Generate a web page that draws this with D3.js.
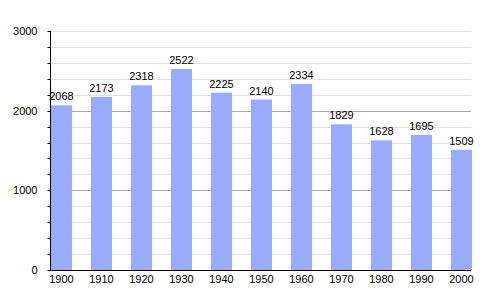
<!DOCTYPE html>
<html>
<head>
<meta charset="utf-8">
<script src="https://cdn.jsdelivr.net/npm/d3@7"></script>
<style>
  body { margin: 0; background: #fff; }
  text { font-family: "Liberation Sans", Arial, sans-serif; font-size: 11px; fill: #000; }
</style>
</head>
<body>
<div id="chart"></div>
<script>
// Population by census year
const years = ["1900", "1910", "1920", "1930", "1940", "1950", "1960", "1970", "1980", "1990", "2000"];
const population = [2068, 2173, 2318, 2522, 2225, 2140, 2334, 1829, 1628, 1695, 1509];
const yTicks = [0, 1000, 2000, 3000];

const width = 500, height = 300;
const plotLeft = 50, plotRight = 471, plotTop = 31, plotBottom = 270;

const svg = d3.select("#chart").append("svg")
    .attr("width", width)
    .attr("height", height);

// 40px step, 21px bars, first bar flush with the axis
const x = d3.scaleBand()
    .domain(years)
    .range([plotLeft + 1, plotLeft + 1 + 40 * years.length - 19])
    .paddingInner(19 / 40)
    .paddingOuter(0);

const y = d3.scaleLinear()
    .domain([0, 3000])
    .range([plotBottom, plotTop]);

// Gridlines: minor every 200, major every 1000
const minor = d3.range(200, 3001, 200).filter(v => v % 1000 !== 0 || v === 3000);
svg.append("g").selectAll("line")
    .data(minor)
    .enter().append("line")
    .attr("x1", plotLeft).attr("x2", plotRight)
    .attr("y1", d => Math.round(y(d)) + 0.5).attr("y2", d => Math.round(y(d)) + 0.5)
    .attr("stroke", "#e2e2e2");

svg.append("g").selectAll("line")
    .data([1000, 2000])
    .enter().append("line")
    .attr("x1", plotLeft).attr("x2", plotRight)
    .attr("y1", d => Math.round(y(d)) + 0.5).attr("y2", d => Math.round(y(d)) + 0.5)
    .attr("stroke", "#aaaaaa");

// Bars
svg.append("g").selectAll("rect")
    .data(population)
    .enter().append("rect")
    .attr("x", (d, i) => x(years[i]))
    .attr("width", x.bandwidth())
    .attr("y", d => y(d))
    .attr("height", d => y(0) - y(d))
    .attr("fill", "#99abff");

// Value labels
svg.append("g").selectAll("text")
    .data(population)
    .enter().append("text")
    .attr("x", (d, i) => x(years[i]) + x.bandwidth() / 2)
    .attr("y", d => y(d) - 5)
    .attr("text-anchor", "middle")
    .text(d => d);

// Y axis with minor ticks
const yAxis = svg.append("g")
    .attr("transform", `translate(${plotLeft + 0.5},0)`);
yAxis.append("line")
    .attr("y1", plotTop).attr("y2", plotBottom)
    .attr("stroke", "#000");
yAxis.selectAll(".minor")
    .data(d3.range(0, 3001, 200))
    .enter().append("line")
    .attr("x1", -3).attr("x2", 0)
    .attr("y1", d => Math.round(y(d)) + 0.5).attr("y2", d => Math.round(y(d)) + 0.5)
    .attr("stroke", "#000");
yAxis.selectAll(".lbl")
    .data(yTicks)
    .enter().append("text")
    .attr("x", -13)
    .attr("y", d => y(d) + 4)
    .attr("text-anchor", "end")
    .text(d => d);

// X axis
svg.append("line")
    .attr("x1", plotLeft).attr("x2", plotRight)
    .attr("y1", plotBottom + 0.5).attr("y2", plotBottom + 0.5)
    .attr("stroke", "#000");
svg.append("g").selectAll("text")
    .data(years)
    .enter().append("text")
    .attr("x", d => x(d) + x.bandwidth() / 2)
    .attr("y", plotBottom + 13)
    .attr("text-anchor", "middle")
    .text(d => d);
</script>
</body>
</html>
